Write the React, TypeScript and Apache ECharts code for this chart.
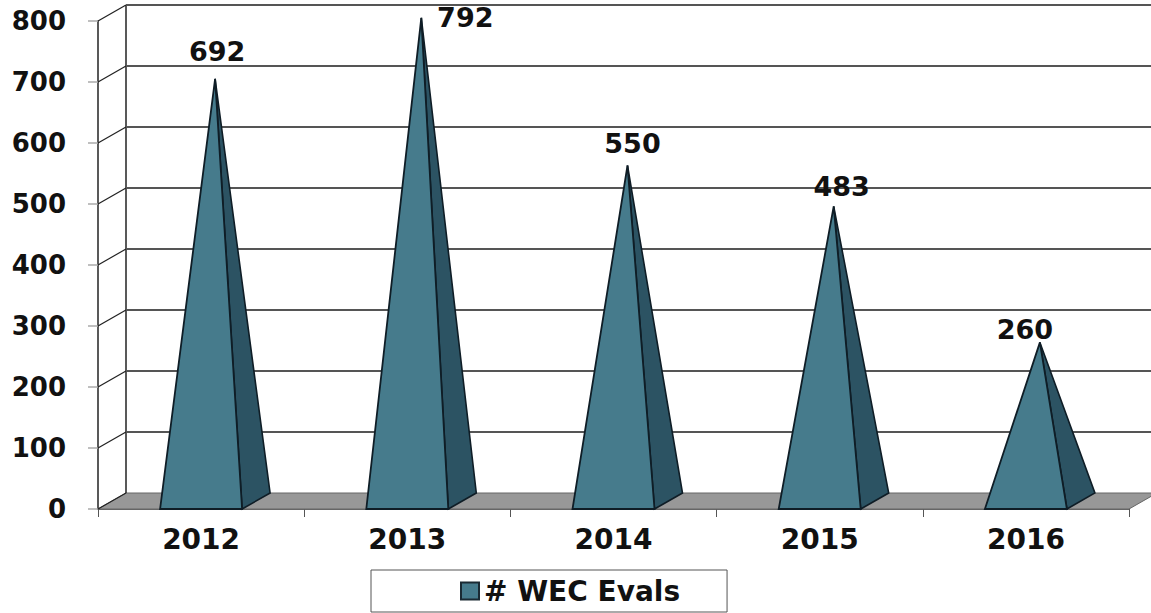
import React, { useEffect, useRef } from "react";
import * as echarts from "echarts";

const categories = ["2012", "2013", "2014", "2015", "2016"];
const evals = [692, 792, 550, 483, 260];
const valueTicks = [0, 100, 200, 300, 400, 500, 600, 700, 800];
const seriesName = "# WEC Evals";
const labelNudgeX = [2, 44, 5, 8, -15];
const labelNudgeY = [-27, 0, -22, -20, -13];

const DX = 28;
const DY = -16;
const HALF = 41;
const FONT = "'DejaVu Sans', sans-serif";

export default function App() {
  const ref = useRef<HTMLDivElement>(null);
  useEffect(() => {
    document.body.style.margin = "0";
    const chart = echarts.init(ref.current!, undefined, { renderer: "svg" });
    chart.setOption({
      animation: false,
      backgroundColor: "#ffffff",
      grid: { left: 98, right: 22, top: 21, bottom: 104, containLabel: false },
      legend: {
        data: [{ name: seriesName, icon: "rect" }],
        left: 371,
        top: 570,
        itemWidth: 18,
        itemHeight: 17,
        itemGap: 5,
        padding: [7, 47, 7, 89],
        borderColor: "#555555",
        borderWidth: 1,
        backgroundColor: "#ffffff",
        textStyle: { fontFamily: FONT, fontWeight: "bold", fontSize: 28, color: "#111111" },
      },
      xAxis: {
        type: "category",
        data: categories,
        boundaryGap: true,
        axisLine: { lineStyle: { color: "#333333", width: 1.5 } },
        axisTick: { show: true, alignWithLabel: false, length: 8, lineStyle: { color: "#555555", width: 1 } },
        axisLabel: { fontFamily: FONT, fontWeight: "bold", fontSize: 28, color: "#111111", margin: 16 },
      },
      yAxis: {
        type: "value",
        min: 0,
        max: 800,
        interval: 100,
        splitLine: { show: false },
        axisLine: { show: true, lineStyle: { color: "#222222", width: 1.5 } },
        axisTick: { show: true, length: 10, lineStyle: { color: "#aaaaaa", width: 1.5 } },
        axisLabel: { fontFamily: FONT, fontWeight: "bold", fontSize: 26, color: "#111111", margin: 32 },
      },
      series: [
        {
          type: "custom",
          silent: true,
          z: 1,
          data: valueTicks.map((t) => [0, t]),
          renderItem: (params: any, api: any) => {
            const cs = params.coordSys;
            const y = api.coord([0, api.value(1)])[1];
            const left = cs.x;
            const right = cs.x + cs.width;
            const children: any[] = [];
            const line = { stroke: "#555555", lineWidth: 2, fill: null };
            if (params.dataIndex === 0) {
              children.push({
                type: "polygon",
                shape: { points: [[left, y], [left + DX, y + DY], [right + DX, y + DY], [right, y]] },
                style: { fill: "#989898", stroke: "#666666", lineWidth: 1 },
              });
              children.push({
                type: "line",
                shape: { x1: left + DX, y1: y + DY, x2: left + DX, y2: cs.y + DY },
                style: { stroke: "#222222", lineWidth: 1.5 },
              });
            } else {
              children.push({
                type: "line",
                shape: { x1: left + DX, y1: y + DY, x2: right + DX, y2: y + DY },
                style: line,
              });
            }
            children.push({
              type: "line",
              shape: { x1: left, y1: y, x2: left + DX, y2: y + DY },
              style: { stroke: "#222222", lineWidth: 1.2 },
            });
            return { type: "group", children };
          },
          encode: { x: 0, y: 1 },
        },
        {
          type: "custom",
          name: seriesName,
          z: 3,
          itemStyle: { color: "#467B8C", borderColor: "#1a2a33", borderWidth: 1 },
          data: evals.map((v, i) => [i, v]),
          encode: { x: 0, y: 1 },
          renderItem: (params: any, api: any) => {
            const i = api.value(0);
            const v = api.value(1);
            const [cx, top] = api.coord([i, v]);
            const base = api.coord([i, 0])[1];
            const ax = cx + DX / 2;
            const ay = top + DY / 2;
            const edge = "#0f1d26";
            return {
              type: "group",
              children: [
                {
                  type: "polygon",
                  shape: { points: [[cx + HALF, base], [cx + HALF + DX, base + DY], [ax, ay]] },
                  style: { fill: "#2C5363", stroke: edge, lineWidth: 1.6 },
                },
                {
                  type: "polygon",
                  shape: { points: [[cx - HALF, base], [cx + HALF, base], [ax, ay]] },
                  style: { fill: "#467B8C", stroke: edge, lineWidth: 1.8 },
                },
                {
                  type: "text",
                  x: ax + labelNudgeX[i],
                  y: ay + labelNudgeY[i],
                  style: {
                    text: String(v),
                    fontFamily: FONT,
                    fontWeight: "bold",
                    fontSize: 27,
                    fill: "#111111",
                    align: "center",
                    verticalAlign: "middle",
                  },
                },
              ],
            };
          },
        },
      ],
    });
    return () => chart.dispose();
  }, []);
  return <div ref={ref} style={{ width: 1151, height: 613 }} />;
}
